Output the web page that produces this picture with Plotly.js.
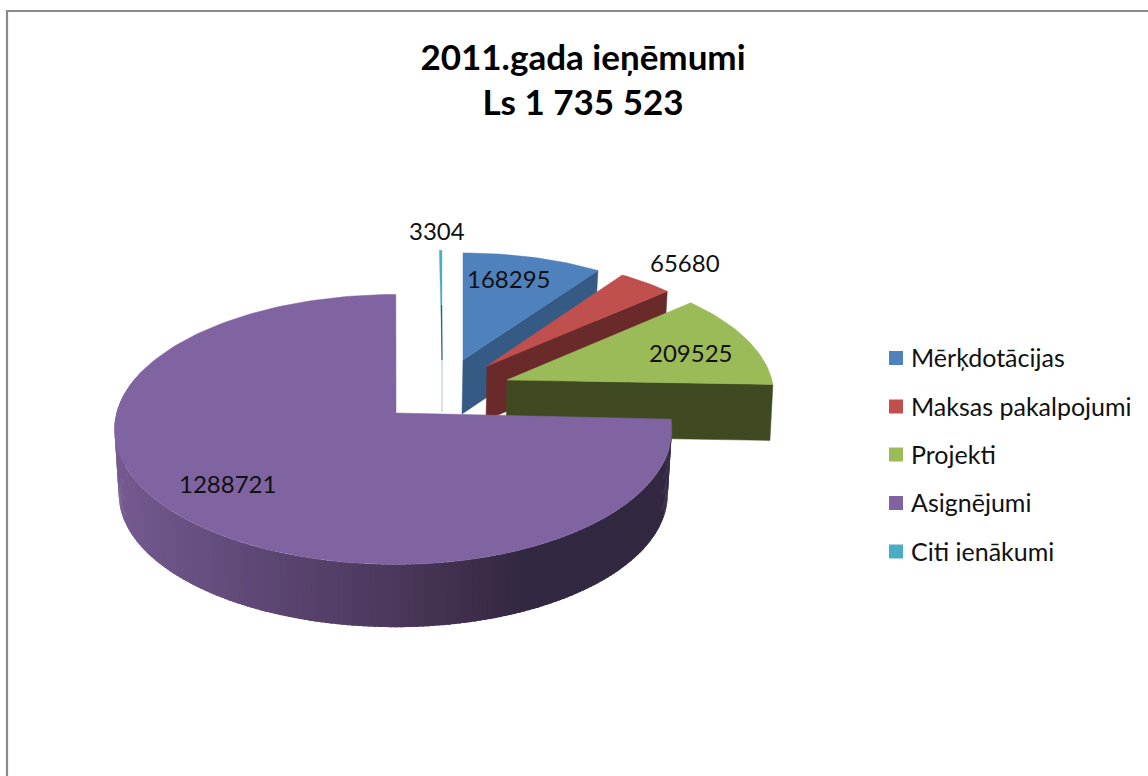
<!DOCTYPE html>
<html><head><meta charset="utf-8">
<script src="https://cdn.plot.ly/plotly-3.0.1.min.js"></script>
<style>html,body{margin:0;padding:0;background:#fff}</style></head>
<body><div id="chart" style="width:1148px;height:776px"></div>
<script>
const categories = ["Mērķdotācijas","Maksas pakalpojumi","Projekti","Asignējumi","Citi ienākumi"];
const values = [168295,65680,209525,1288721,3304];
const topColors = ["#4f81bd","#c0504d","#9bbb59","#8064a2","#4bacc6"];
const wallColors = ["#355a84","#6b2a2a","#404a22","#4b375c","#b8d0d4"];
const titleLines = ["2011.gada ieņēmumi","Ls 1 735 523"];

// drawing helpers: projected exploded pie (perspective view of a tilted disc)
const R=278, A=133, K=0.1218, DEPTH=[54,54,56,65,52];
const geom=[ // apex x, apex y, scale x (right, left), scale y, drawing rotation
 {ax:463,ay:360,sxr:.933,sxl:.933,sy:.903,rot:0},
 {ax:487,ay:366,sxr:.935,sxl:.935,sy:.918,rot:0},
 {ax:507,ay:380,sxr:.953,sxl:.953,sy:.948,rot:0},
 {ax:396,ay:413,sxr:.985,sxl:1.005,sy:1,rot:.65},
 {ax:442,ay:360,sxr:.92,sxl:.92,sy:.925,rot:0}
];
const total=values.reduce((a,b)=>a+b,0);
const starts=[];let acc=0;values.forEach(v=>{starts.push(acc/total*360);acc+=v;});
const ends=starts.map((s,i)=>s+values[i]/total*360);
function pt(i,deg,f,h){
  const g=geom[i],t=(deg+g.rot)*Math.PI/180,u=Math.sin(t),v=Math.cos(t),d=1+K*v;
  const sx=u>=0?g.sxr:g.sxl; f=f||1; h=h||0;
  return [g.ax+R*sx*f*u/d, g.ay-A*g.sy*f*v/d+h];
}
function poly(points,color,lw){
  return {type:'scatter',mode:'lines',x:points.map(p=>p[0]),y:points.map(p=>p[1]),fill:'toself',
    fillcolor:color,line:{color:color,width:lw===undefined?0.5:lw,shape:'linear'},hoverinfo:'skip',showlegend:false};
}
function sector(i){
  const g=geom[i],pts=[[g.ax,g.ay]];
  const n=Math.max(2,Math.ceil((ends[i]-starts[i])/1.5));
  for(let k=0;k<=n;k++)pts.push(pt(i,starts[i]+(ends[i]-starts[i])*k/n));
  pts.push([g.ax,g.ay]);return pts;
}
function radialWall(i,deg){
  const g=geom[i],h=DEPTH[i],tip=pt(i,deg);
  return [[g.ax,g.ay],tip,[tip[0]-3,tip[1]+h],[g.ax-1,g.ay+h],[g.ax,g.ay]];
}
function mix(a,b,t){return a.map((c,j)=>Math.round(c+(b[j]-c)*t));}
function wallShade(x){
  const s=[[118,[116,90,144]],[250,[95,72,118]],[390,[75,56,92]],[470,[62,45,75]],[520,[51,40,65]],[700,[50,40,64]]];
  for(let j=0;j<s.length-1;j++) if(x<=s[j+1][0]){
    const c=mix(s[j][1],s[j+1][1],Math.max(0,(x-s[j][0])/(s[j+1][0]-s[j][0])));
    return 'rgb('+c.join(',')+')';
  }
  return 'rgb(50,40,64)';
}
const traces=[];
// citi ienakumi (thin sliver)
traces.push({type:'scatter',mode:'lines',x:[geom[4].ax,geom[4].ax],y:[geom[4].ay,geom[4].ay+DEPTH[4]],
  line:{color:wallColors[4],width:1.2},hoverinfo:'skip',showlegend:false});
traces.push(poly(sector(4),topColors[4],0.3));
traces.push({type:'scatter',mode:'lines',x:[geom[4].ax,geom[4].ax-.4],y:[geom[4].ay,geom[4].ay-55],
  line:{color:'#1f5566',width:1},hoverinfo:'skip',showlegend:false});
// back slices: side wall then top surface
[0,1,2].forEach(i=>{
  traces.push(poly(radialWall(i,ends[i]),wallColors[i]));
  traces.push(poly(sector(i),topColors[i]));
});
// large slice: shaded rim in strips, then top surface
const rimEnd=Math.min(ends[3],starts[3]+196), F=0.985, STEP=1;
for(let a=starts[3];a<rimEnd;a+=STEP){
  const b=Math.min(a+STEP*1.6,rimEnd),pts=[];
  for(const d of [a,b])pts.push(pt(3,d));
  for(const d of [b,a])pts.push(pt(3,d,F,DEPTH[3]));
  pts.push(pts[0]);
  traces.push(poly(pts,wallShade((pts[0][0]+pts[1][0])/2),0));
}
traces.push(poly(sector(3),topColors[3]));

// legend: swatches built from the category list
const legendY=[358,406.5,454.5,503,551.5];
categories.forEach((c,i)=>traces.push({type:'scatter',mode:'markers',x:[896],y:[legendY[i]],
  marker:{symbol:'square',size:14,color:topColors[i]},hoverinfo:'skip',showlegend:false}));

const FONT='Lato, Carlito, Calibri, sans-serif', INK='#111';
const labelPos=[[509,278],[685,262],[691,352],[227,483],[437,230]];
const annotations=values.map((v,i)=>({x:labelPos[i][0],y:labelPos[i][1],xref:'x',yref:'y',text:String(v),
  showarrow:false,xanchor:'center',yanchor:'middle',font:{family:FONT,size:24,color:INK}}));
categories.forEach((c,i)=>annotations.push({x:909,y:legendY[i]-1,xref:'x',yref:'y',text:c,showarrow:false,
  xanchor:'left',yanchor:'middle',font:{family:FONT,size:25,color:INK}}));

Plotly.newPlot('chart',traces,{
  width:1148,height:776,margin:{l:0,r:0,t:0,b:0},
  paper_bgcolor:'#fff',plot_bgcolor:'#fff',showlegend:false,hovermode:false,
  title:{text:titleLines.join('<br>'),x:583/1148,xanchor:'center',y:1-69.5/776,yref:'container',yanchor:'middle',
    font:{family:FONT,size:35,color:'#000',weight:700}},
  xaxis:{range:[0,1148],visible:false,fixedrange:true},
  yaxis:{range:[776,0],visible:false,fixedrange:true},
  shapes:[{type:'rect',xref:'x',yref:'y',x0:7,y0:11,x1:1170,y1:800,line:{color:'#8a8a8a',width:2.2},layer:'below'}],
  annotations:annotations
},{displayModeBar:false,staticPlot:true});
</script></body></html>
